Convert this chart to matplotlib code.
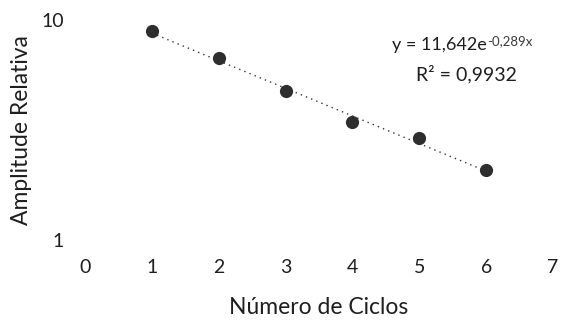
import numpy as np
import matplotlib
matplotlib.use("Agg")
import matplotlib.pyplot as plt

# Relative amplitude per cycle
ciclos = [1, 2, 3, 4, 5, 6]
amplitude = [8.91, 6.74, 4.76, 3.45, 2.92, 2.08]

# Exponential trendline y = a * exp(b x)
coef_a = 11.642
coef_b = -0.289
r2 = 0.9932

x_ticks = [0, 1, 2, 3, 4, 5, 6, 7]
y_ticks = [1, 10]

plt.rcParams['font.family'] = ['Lato', 'DejaVu Sans']
txt_color = '#1e1e1e'

fig = plt.figure(figsize=(5.67, 3.21), dpi=100)
ax = fig.add_axes([0.1499, 0.2523, 0.8254, 0.6854])

ax.set_yscale('log')
ax.set_xlim(0, 7)
ax.set_ylim(1, 10)

xt = np.linspace(ciclos[0], ciclos[-1], 200)
ax.plot(xt, coef_a * np.exp(coef_b * xt), color='#333333', lw=1.0,
        linestyle=(0, (1, 3)), zorder=2)
ax.plot(ciclos, amplitude, 'o', color='#2e2e2e', markersize=9.5,
        markeredgewidth=0, zorder=3)

for s in ax.spines.values():
    s.set_visible(False)
ax.set_xticks(x_ticks)
ax.set_xticklabels([str(v) for v in x_ticks])
ax.set_yticks(y_ticks)
ax.set_yticklabels([str(v) for v in y_ticks])
ax.yaxis.set_minor_locator(matplotlib.ticker.NullLocator())
ax.tick_params(axis='both', length=0, labelsize=14, colors=txt_color)
ax.tick_params(axis='x', pad=14)
ax.tick_params(axis='y', pad=15)

ax.set_xlabel('Número de Ciclos', fontsize=16.5, color=txt_color, labelpad=15)
ax.set_ylabel('Amplitude Relativa', fontsize=16.5, color=txt_color, labelpad=7)

eq = fig.text(392 / 567, 1 - 45 / 321, 'y = 11,642e', fontsize=13,
              color=txt_color, ha='left', va='center')
ax.annotate('-0,289x', xy=(1, 0.72), xycoords=eq, fontsize=9.5,
            color='#3a3a3a', ha='left', va='center')
fig.text(466 / 567, 1 - 74 / 321, 'R² = 0,9932', fontsize=14,
         color=txt_color, ha='center', va='center')

fig.savefig('out.png', dpi=100, facecolor='white')
